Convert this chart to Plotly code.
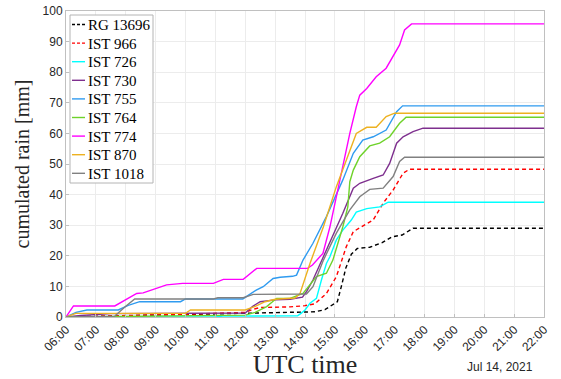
import plotly.graph_objects as go
import pandas as pd

DAY = "2021-07-14 "

names = ["RG 13696", "IST 966", "IST 726", "IST 730", "IST 755",
         "IST 764", "IST 774", "IST 870", "IST 1018"]

rg13696_t = ["06:00", "07:00", "08:00", "09:00", "10:00", "11:00", "12:00", "13:00", "14:00", "14:20",
             "14:40", "14:55", "15:05", "15:13", "15:22", "15:33", "15:45", "16:10", "16:35", "16:55",
             "17:15", "17:37", "22:00"]
rg13696_v = [0, 0.2, 0.4, 0.6, 0.9, 1.1, 1.2, 1.3, 1.5, 1.7,
             2.4, 4.0, 5.0, 10.0, 16.0, 20.5, 22.4, 22.8, 24.3, 26.2,
             26.8, 29.0, 29.0]

ist966_t = ["06:00", "07:00", "08:00", "09:00", "10:00", "11:00", "12:00", "12:15", "12:30", "13:30",
            "14:00", "14:20", "14:43", "15:03", "15:23", "15:37", "15:56", "16:17", "16:37", "16:57",
            "17:17", "17:30", "22:00"]
ist966_v = [0, 0.3, 0.5, 0.7, 0.9, 1.2, 1.5, 2.5, 3.1, 3.3,
            3.7, 4.3, 7.7, 13.2, 23.0, 27.9, 29.7, 31.7, 37.2, 41.5,
            47.0, 48.3, 48.3]

ist726_t = ["06:00", "11:00", "11:15", "13:45", "13:52", "14:00", "14:10", "14:23", "14:33", "14:43",
            "14:50", "15:03", "15:16", "15:33", "15:43", "16:04", "16:30", "16:47", "22:00"]
ist726_v = [0, 0, 0.3, 0.4, 1.2, 2.3, 4.5, 6.1, 12.1, 17.5,
            19.7, 25.2, 28.4, 31.7, 34.3, 35.4, 36.0, 37.5, 37.5]

ist730_t = ["06:00", "06:30", "07:30", "12:00", "12:15", "12:30", "13:00", "13:30", "13:55", "14:03",
            "14:16", "14:43", "15:16", "15:37", "15:50", "16:17", "16:37", "16:50", "17:04", "17:17",
            "17:37", "17:57", "22:00"]
ist730_v = [0, 0.5, 1.1, 1.3, 3.5, 5.0, 5.6, 5.8, 6.5, 8.3,
            12.1, 21.9, 33.9, 42.1, 43.7, 45.3, 46.4, 50.2, 56.8, 58.9,
            60.6, 61.7, 61.7]

ist755_t = ["06:00", "06:20", "06:42", "07:45", "08:05", "08:28", "09:50", "10:00", "11:55", "12:10",
            "12:22", "12:36", "12:56", "13:10", "13:35", "13:43", "13:56", "14:16", "14:43", "15:16",
            "15:37", "15:56", "16:17", "16:43", "17:04", "17:16", "22:00"]
ist755_v = [0, 1.5, 2.3, 2.3, 3.8, 5.0, 5.0, 5.9, 5.9, 7.5,
            8.8, 9.9, 12.6, 13.0, 13.3, 13.7, 18.6, 24.1, 32.8, 44.8,
            53.5, 57.8, 58.9, 61.1, 67.1, 69.0, 69.0]

ist764_t = ["06:00", "10:00", "12:00", "12:20", "12:43", "13:03", "13:30", "13:56", "14:10", "14:23",
            "14:43", "14:56", "15:16", "15:26", "15:30", "15:37", "15:50", "16:10", "16:30", "16:50",
            "17:10", "17:23", "22:00"]
ist764_v = [0, 0.3, 0.6, 1.5, 3.4, 6.1, 6.1, 7.7, 10.5, 13.2,
            14.3, 18.6, 29.5, 36.0, 44.2, 48.0, 52.4, 55.9, 56.8, 58.9,
            63.3, 65.3, 65.3]

ist774_t = ["06:00", "06:15", "07:38", "08:05", "08:22", "08:35", "09:02", "09:22", "09:54", "10:56",
            "11:16", "11:56", "12:23", "14:05", "14:15", "14:36", "14:50", "15:10", "15:30", "15:43",
            "15:50", "16:04", "16:23", "16:43", "17:10", "17:20", "17:34", "22:00"]
ist774_v = [0, 3.6, 3.6, 6.0, 7.7, 7.9, 9.4, 10.5, 11.0, 11.0,
            12.3, 12.3, 15.9, 15.9, 17.0, 20.8, 29.4, 44.8, 60.0, 68.7,
            72.5, 74.7, 78.5, 81.3, 88.9, 93.8, 95.8, 95.8]

ist870_t = ["06:00", "06:20", "10:00", "10:10", "12:00", "12:20", "12:40", "13:00", "13:40", "13:50",
            "14:10", "14:37", "15:03", "15:30", "15:43", "16:04", "16:23", "16:43", "17:00", "22:00"]
ist870_v = [0, 1.2, 1.2, 2.3, 2.3, 3.5, 5.0, 5.8, 6.2, 7.7,
            17.5, 29.5, 42.6, 54.6, 60.0, 62.0, 62.0, 65.5, 66.6, 66.6]

ist1018_t = ["06:00", "07:38", "08:00", "08:18", "10:56", "11:05", "11:56", "12:16", "14:03", "14:16",
             "14:37", "15:03", "15:30", "15:50", "16:10", "16:37", "16:57", "17:10", "17:20", "22:00"]
ist1018_v = [0, 0.3, 3.5, 5.9, 5.9, 6.3, 6.3, 7.4, 7.5, 9.9,
             18.6, 27.4, 35.0, 39.3, 41.7, 42.1, 45.9, 50.8, 52.2, 52.2]

tick_labels = ["06:00", "07:00", "08:00", "09:00", "10:00", "11:00", "12:00", "13:00", "14:00",
               "15:00", "16:00", "17:00", "18:00", "19:00", "20:00", "21:00", "22:00"]
y_ticks = [0, 10, 20, 30, 40, 50, 60, 70, 80, 90, 100]

colors = ["#000000", "#ff0000", "#00ffff", "#7e2f8e", "#2f9bf0",
          "#6ed22a", "#ff00ff", "#edb120", "#808080"]
dashes = ["4px,3px", "4px,3px", "solid", "solid", "solid",
          "solid", "solid", "solid", "solid"]

series_t = [rg13696_t, ist966_t, ist726_t, ist730_t, ist755_t, ist764_t, ist774_t, ist870_t, ist1018_t]
series_v = [rg13696_v, ist966_v, ist726_v, ist730_v, ist755_v, ist764_v, ist774_v, ist870_v, ist1018_v]

fig = go.Figure()
for name, t, v, col, dash in zip(names, series_t, series_v, colors, dashes):
    fig.add_trace(go.Scatter(
        x=pd.to_datetime([DAY + s for s in t]), y=v, mode="lines", name=name,
        line=dict(color=col, width=1.4, dash=dash), showlegend=False))

tickvals = pd.to_datetime([DAY + s for s in tick_labels])

# plot area in pixels (for placing the hand-made legend)
L, R, T, B = 66, 544, 11, 317
W, H = R - L, B - T
def px(x):
    return (x - L) / W
def py(y):
    return (B - y) / H

fig.update_layout(
    width=561, height=379,
    margin=dict(l=L, r=561 - R, t=T, b=379 - B, autoexpand=False),
    paper_bgcolor="white", plot_bgcolor="white",
    font=dict(family="Liberation Sans", size=12, color="#262626"),
    showlegend=False,
    xaxis=dict(range=[tickvals[0], tickvals[-1]], tickvals=tickvals, ticktext=tick_labels,
               tickangle=-45, showgrid=True, gridcolor="#ececec", gridwidth=1,
               showline=True, linecolor="#c0c0c0", mirror=True, zeroline=False,
               ticks="inside", ticklen=3, tickcolor="#c0c0c0",
               tickfont=dict(family="Liberation Sans", size=12, color="#262626"),
               title=dict(text="UTC time", font=dict(family="Liberation Serif", size=26, color="#262626"),
                          standoff=2)),
    yaxis=dict(range=[0, 100], tickvals=y_ticks, showgrid=True, gridcolor="#ececec", gridwidth=1,
               showline=True, linecolor="#c0c0c0", mirror=True, zeroline=False,
               ticks="inside", ticklen=3, tickcolor="#c0c0c0",
               tickfont=dict(family="Liberation Sans", size=12, color="#262626"),
               title=dict(text="cumulated rain [mm]",
                          font=dict(family="Liberation Serif", size=20, color="#262626"),
                          standoff=7)),
)

# legend box
fig.add_shape(type="rect", xref="paper", yref="paper",
              x0=px(70), x1=px(153), y0=py(15), y1=py(183),
              line=dict(color="#b4b4b4", width=1), fillcolor="white", layer="above")
for i, (name, col, dash) in enumerate(zip(names, colors, dashes)):
    yy = 24.5 + 18.6 * i
    fig.add_shape(type="line", xref="paper", yref="paper",
                  x0=px(72), x1=px(85), y0=py(yy), y1=py(yy),
                  line=dict(color=col, width=1.4, dash="3px,2px" if dash != "solid" else "solid"),
                  layer="above")
    fig.add_annotation(text=name, xref="paper", yref="paper", x=px(85.5), y=py(yy + 0.5),
                       xanchor="left", yanchor="middle", showarrow=False,
                       font=dict(family="Liberation Serif", size=15, color="#000000"))

fig.add_annotation(text="Jul 14, 2021", xref="paper", yref="paper", x=px(535), y=py(367),
                   xanchor="right", yanchor="middle", showarrow=False,
                   font=dict(family="Liberation Sans", size=12, color="#262626"))

fig.write_html("out.html", config={"displayModeBar": False},
               post_script="document.body.style.margin='0';document.body.style.overflow='hidden';")
